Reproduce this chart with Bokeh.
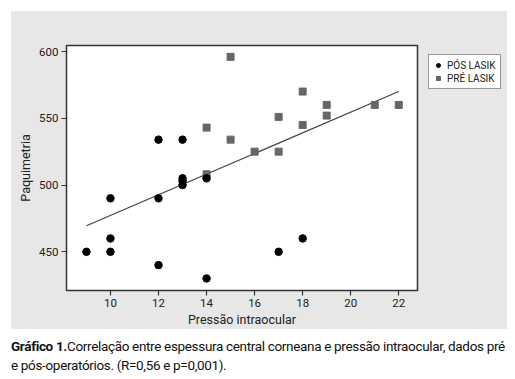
from bokeh.plotting import figure
from bokeh.models import FixedTicker, Legend, LegendItem, Div
from bokeh.layouts import column, row
from bokeh.embed import file_html
from bokeh.resources import INLINE

# data
pos_x = [9, 10, 10, 10, 12, 12, 12, 13, 13, 13, 13, 14, 14, 17, 18]
pos_y = [450, 490, 460, 450, 534, 490, 440, 534, 505, 503, 500, 505, 430, 450, 460]
pre_x = [14, 14, 15, 15, 16, 17, 17, 18, 18, 19, 19, 21, 22]
pre_y = [543, 508, 596, 534, 525, 551, 525, 570, 545, 560, 552, 560, 560]
fit_x = [9, 22]
fit_y = [469.5, 570]
x_ticks = [10, 12, 14, 16, 18, 20, 22]
y_ticks = [450, 500, 550, 600]
series_names = ["PÓS LASIK", "PRÉ LASIK"]

FONT = "Roboto"
BG = "#e7e7e7"
POS_COLOR = "black"
PRE_COLOR = "#666666"

p = figure(width=408, height=318, x_range=(8.17, 22.78), y_range=(421, 604.5),
           output_backend="svg", toolbar_location=None,
           min_border_left=55, min_border_right=2, min_border_top=34, min_border_bottom=37)
p.margin = 0
p.border_fill_color = BG
p.background_fill_color = "white"
p.outline_line_color = "#333333"
p.outline_line_width = 1.5
p.grid.visible = False

for ax in (p.xaxis[0], p.yaxis[0]):
    ax.axis_line_color = None
    ax.major_tick_line_color = "#333333"
    ax.major_tick_line_width = 1.2
    ax.major_tick_in = 0
    ax.major_tick_out = 5
    ax.minor_tick_line_color = None
    ax.major_label_text_font = FONT
    ax.major_label_text_font_size = "11.5px"
    ax.major_label_text_color = "#222222"
    ax.axis_label_text_font = FONT
    ax.axis_label_text_font_size = "12.5px"
    ax.axis_label_text_font_style = "normal"
    ax.axis_label_text_color = "#222222"

p.xaxis.ticker = FixedTicker(ticks=x_ticks)
p.yaxis.ticker = FixedTicker(ticks=y_ticks)
p.xaxis.axis_label = "Pressão intraocular"
p.yaxis.axis_label = "Paquimetria"
p.xaxis.major_label_standoff = 3
p.xaxis.axis_label_standoff = 2
p.yaxis.major_label_standoff = 3
p.yaxis.axis_label_standoff = 3

p.line(fit_x, fit_y, line_color="#444444", line_width=1.2)
p.scatter(pre_x, pre_y, marker="square", size=7, fill_color=PRE_COLOR, line_color=PRE_COLOR)
p.scatter(pos_x, pos_y, marker="circle", size=7.5, fill_color=POS_COLOR, line_color=POS_COLOR)

# legend panel (separate small figure so the legend can sit outside the plot box);
# its glyphs use the same data, which lies outside this panel's ranges
lf = figure(width=88, height=318, x_range=(0, 1), y_range=(0, 1),
            output_backend="svg", toolbar_location=None,
            x_axis_type=None, y_axis_type=None,
            min_border_left=0, min_border_right=0, min_border_top=30, min_border_bottom=0)
lf.margin = 0
lf.border_fill_color = BG
lf.background_fill_color = BG
lf.outline_line_color = None
lf.grid.visible = False
lr_pos = lf.scatter(pos_x, pos_y, marker="circle", size=7.5, fill_color=POS_COLOR, line_color=POS_COLOR)
lr_pre = lf.scatter(pre_x, pre_y, marker="square", size=7, fill_color=PRE_COLOR, line_color=PRE_COLOR)

legend = Legend(items=[LegendItem(label=series_names[0], renderers=[lr_pos]),
                       LegendItem(label=series_names[1], renderers=[lr_pre])],
                location="top_left")
legend.border_line_color = "#333333"
legend.border_line_width = 1.5
legend.background_fill_color = "white"
legend.label_text_font = FONT
legend.label_text_font_size = "10px"
legend.label_text_color = "#222222"
legend.glyph_width = 10
legend.glyph_height = 10
legend.label_height = 12
legend.label_standoff = 4
legend.spacing = 1
legend.padding = 4
legend.margin = 9
lf.add_layout(legend, "center")

caption = Div(text="<b>Gráfico 1.</b>Correlação entre espessura central corneana e pressão intraocular, dados pré<br>e pós-operatórios. (R=0,56 e p=0,001).",
              width=500, margin=(8, 0, 0, 11),
              styles={"font-family": FONT, "font-size": "13.5px", "line-height": "19px",
                      "color": "#111111", "letter-spacing": "-0.33px"})

top = row(p, lf, spacing=0, margin=(11, 0, 0, 11), styles={"background-color": BG})
layout = column(top, caption, spacing=0)
open("out.html", "w").write(file_html(layout, INLINE))
